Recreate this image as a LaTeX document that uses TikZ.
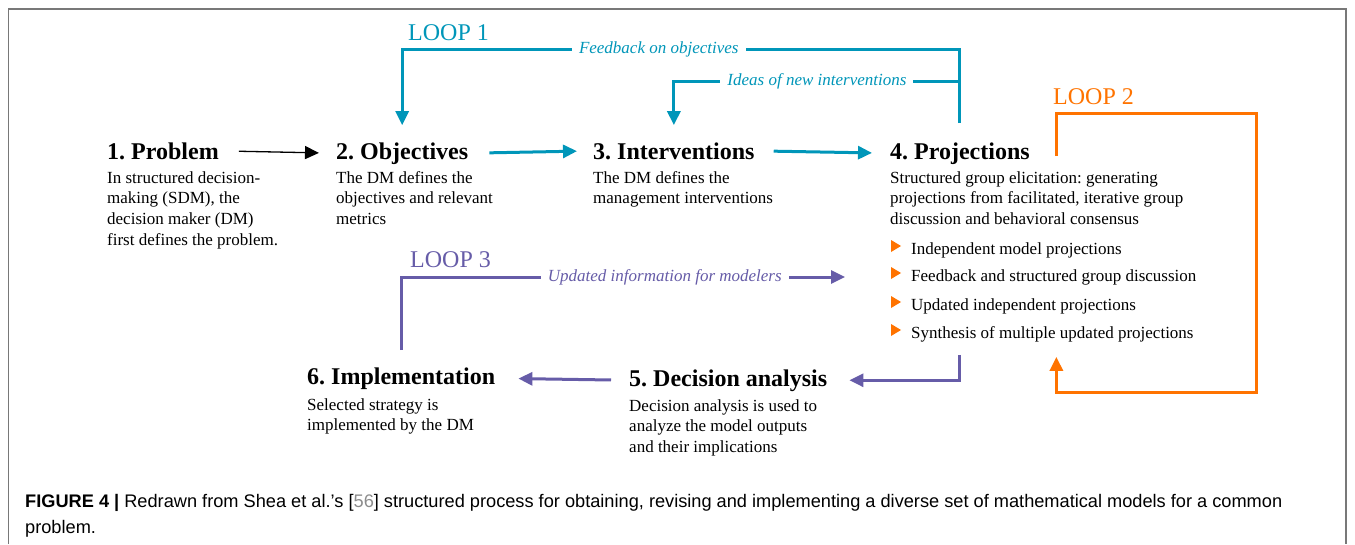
\documentclass[tikz,border=0pt]{standalone}
\usepackage{fontspec}
\setmainfont{Liberation Serif}
\newfontfamily\capfont{Liberation Sans}
\usepackage{tikz}
\usetikzlibrary{arrows.meta,positioning}
\frenchspacing

\definecolor{loopteal}{RGB}{0,150,185}
\definecolor{loopviolet}{RGB}{102,92,168}
\definecolor{looporange}{RGB}{255,115,0}
\definecolor{framegray}{RGB}{120,120,120}
\definecolor{citegray}{RGB}{140,140,140}

\tikzset{
  head/.style={font=\fontsize{24}{28}\selectfont\bfseries, inner sep=0pt, anchor=base west},
  body/.style={font=\fontsize{17}{20.7}\selectfont, align=left, inner sep=0pt, anchor=north west},
  item/.style={font=\fontsize{17}{20}\selectfont, inner sep=0pt, anchor=base west},
  loopname/.style={font=\fontsize{24}{28}\selectfont, inner sep=0pt, anchor=base west},
  looplbl/.style={font=\fontsize{17}{20}\selectfont\itshape, fill=white, inner xsep=7pt, inner ysep=2pt},
  tip/.style={-{Triangle[length=14pt,width=13pt]}},
  flow/.style={tip, line width=3pt},
}

\begin{document}
\begin{tikzpicture}[x=1pt,y=-1pt]
\useasboundingbox (0,0) rectangle (1355,544);
\draw[framegray, line width=1.3pt] (8.5,544) -- (8.5,9) -- (1346,9) -- (1346,544);

% steps, top row
\node[head] (prob) at (107,159) {1. Problem};
\node[body] (probtxt) at (107,171) {In structured decision-\\making (SDM), the\\decision maker (DM)\\first defines the problem.};
\node[head] (obj) at (336,159) {2. Objectives};
\node[body] (objtxt) at (336,171) {The DM defines the\\objectives and relevant\\metrics};
\node[head] (intv) at (593,159) {3. Interventions};
\node[body] (intvtxt) at (593,171) {The DM defines the\\management interventions};
\node[head] (proj) at (890,159) {4. Projections};
\node[body] (projtxt) at (890,171) {Structured group elicitation: generating\\projections from facilitated, iterative group\\discussion and behavioral consensus};
\node[item] (indp) at (911,254) {Independent model projections};
\node[item] (fdbk) at (911,281) {Feedback and structured group discussion};
\node[item] (updp) at (911,310) {Updated independent projections};
\node[item] (synth) at (911,338) {Synthesis of multiple updated projections};
\foreach \n in {indp,fdbk,updp,synth}
  \fill[looporange] ([xshift=-20pt,yshift=2pt]\n.base west) -- ++(0,-12) -- ++(10,6) -- cycle;

% steps, bottom row
\node[head] (dec) at (629,386) {5. Decision analysis};
\node[body] (dectxt) at (629,399) {Decision analysis is used to\\analyze the model outputs\\and their implications};
\node[head] (impl) at (307,384) {6. Implementation};
\node[body] (impltxt) at (307,398) {Selected strategy is\\implemented by the DM};

% main flow
\draw[tip, line width=1.3pt, shorten <=20pt, shorten >=17pt] (prob.east) -- (obj.west);
\draw[flow, loopteal, shorten <=21pt, shorten >=16pt] (obj.east) -- (intv.west);
\draw[flow, loopteal, shorten <=19pt, shorten >=18pt] (intv.east) -- (proj.west);
\draw[flow, loopviolet, shorten <=13pt, shorten >=22pt] (proj.center |- synth.south) |- (dec.east);
\draw[flow, loopviolet, shorten <=18pt, shorten >=23pt] (dec.west) -- (impl.east);

% loop 1
\node[loopname, loopteal] (l1name) at (408,40) {LOOP 1};
\coordinate (fbline) at (0,49);
\coordinate (idline) at (0,81);
\draw[flow, loopteal, shorten <=19pt, shorten >=17pt] (proj.north) -- (proj.north |- fbline)
  -- node[looplbl, pos=0.54] {Feedback on objectives} (obj.north |- fbline) -- (obj.north);
\draw[flow, loopteal, shorten >=17pt] (proj.north |- idline)
  -- node[looplbl] {Ideas of new interventions} (intv.north |- idline) -- (intv.north);

% loop 2
\node[loopname, looporange] (l2name) at (1053,104) {LOOP 2};
\coordinate (l2start) at ([xshift=4pt,yshift=3pt]synth.center |- proj.base);
\coordinate (l2ne) at (1256,113);
\coordinate (l2se) at (1256,392);
\draw[flow, looporange, shorten >=15pt] (l2start) |- (l2ne) -- (l2se) -| ([xshift=4pt]synth.south);

% loop 3
\node[loopname, loopviolet] (l3name) at (410,267) {LOOP 3};
\coordinate (updend) at (845,277);
\draw[flow, loopviolet, shorten <=17pt] (impl.north) |- node[looplbl, pos=0.797] {Updated information for modelers} (updend);

% caption
\node[font=\capfont\fontsize{18.2}{26}\selectfont, align=left, inner sep=0pt, anchor=base west] (capt) at (25,533)
  {\textbf{FIGURE 4 |} Redrawn from Shea et al.’s [\textcolor{citegray}{56}] structured process for obtaining, revising and implementing a diverse set of mathematical models for a common\\problem.};
\end{tikzpicture}
\end{document}
